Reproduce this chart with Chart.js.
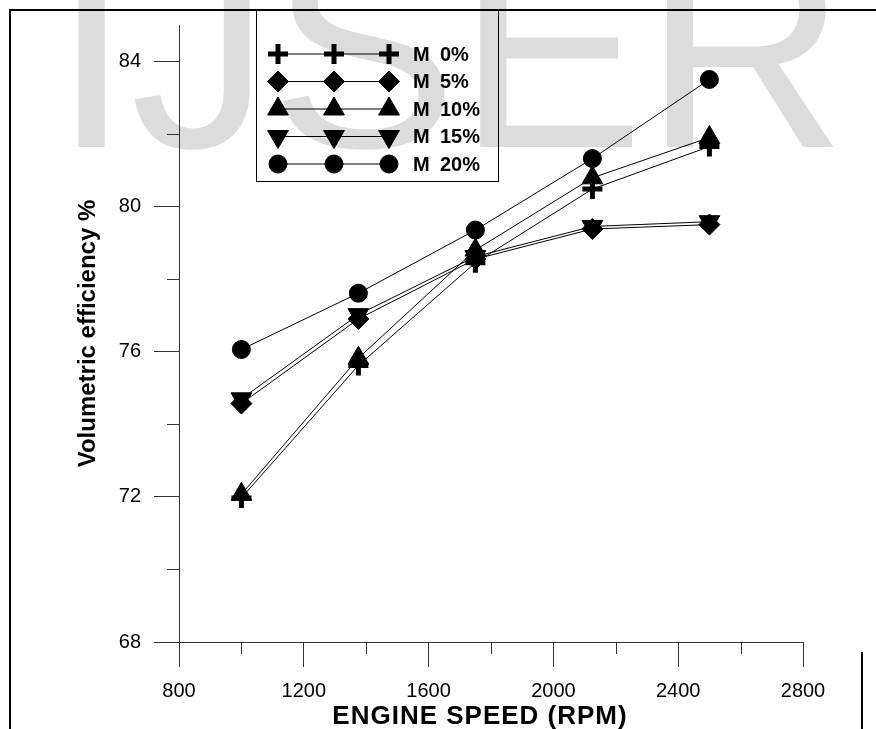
<!DOCTYPE html>
<html>
<head>
<meta charset="utf-8">
<script src="https://cdn.jsdelivr.net/npm/chart.js@4.4.1/dist/chart.umd.min.js"></script>
<style>
  html, body { margin: 0; padding: 0; background: #fff; }
  #wrap { width: 876px; height: 729px; }
</style>
</head>
<body>
<div id="wrap"><canvas id="chart" width="876" height="729"></canvas></div>
<script>
const rpm = [1000, 1375, 1750, 2125, 2500];
const seriesLabels = ["M 0%", "M 5%", "M 10%", "M 15%", "M 20%"];
const m0 = [71.97, 75.62, 78.45, 80.48, 81.65];
const m5 = [74.57, 76.9, 78.55, 79.38, 79.5];
const m10 = [72.07, 75.82, 78.8, 80.79, 81.9];
const m15 = [74.7, 77.02, 78.62, 79.45, 79.58];
const m20 = [76.06, 77.61, 79.35, 81.32, 83.5];

const xMajorTicks = [800, 1200, 1600, 2000, 2400, 2800];
const xMinorTicks = [1000, 1400, 1800, 2200, 2600];
const yMajorTicks = [68, 72, 76, 80, 84];
const yMinorTicks = [70, 74, 78, 82];

const xTitle = "ENGINE SPEED (RPM)";
const yTitle = "Volumetric efficiency %";

const FONT = "'Liberation Sans', Arial, sans-serif";
const AXIS = "#333";

const markers = [
  { style: "cross", radius: 10, rotation: 0, border: 5 },
  { style: "rectRot", radius: 10.5, rotation: 0, border: 1 },
  { style: "triangle", radius: 12, rotation: 0, border: 1 },
  { style: "triangle", radius: 12, rotation: 180, border: 1 },
  { style: "circle", radius: 9, rotation: 0, border: 1 },
];

const seriesValues = [m0, m5, m10, m15, m20];

const datasets = seriesValues.map((vals, i) => ({
  label: seriesLabels[i],
  data: rpm.map((x, j) => ({ x, y: vals[j] })),
  borderColor: "#000",
  borderWidth: 1,
  backgroundColor: "#000",
  pointStyle: markers[i].style,
  pointRadius: markers[i].radius,
  pointRotation: markers[i].rotation,
  pointBorderWidth: markers[i].border,
  pointBackgroundColor: "#000",
  pointBorderColor: "#000",
  tension: 0,
}));

const backdrop = {
  id: "backdrop",
  beforeDraw(chart) {
    const ctx = chart.ctx;
    ctx.save();
    ctx.fillStyle = "#fff";
    ctx.fillRect(0, 0, chart.width, chart.height);
    // watermark
    ctx.fillStyle = "#dcdcdc";
    ctx.font = `280px ${FONT}`;
    ctx.textBaseline = "alphabetic";
    ctx.textAlign = "left";
    ctx.fillText("IJSER", 52.7, 147);
    // page frame
    ctx.strokeStyle = "#000";
    ctx.lineWidth = 2;
    ctx.beginPath();
    ctx.moveTo(876, 10);
    ctx.lineTo(10, 10);
    ctx.lineTo(10, 729);
    ctx.moveTo(862, 652);
    ctx.lineTo(862, 729);
    ctx.stroke();
    ctx.restore();
  },
};

const extras = {
  id: "extras",
  afterDraw(chart) {
    const ctx = chart.ctx;
    const xs = chart.scales.x;
    const ys = chart.scales.y;
    ctx.save();
    // minor ticks
    ctx.strokeStyle = AXIS;
    ctx.lineWidth = 1;
    ctx.beginPath();
    xMinorTicks.forEach((v) => {
      const px = Math.round(xs.getPixelForValue(v)) + 0.5;
      ctx.moveTo(px, ys.bottom);
      ctx.lineTo(px, ys.bottom + 12);
    });
    yMinorTicks.forEach((v) => {
      const py = Math.round(ys.getPixelForValue(v)) + 0.5;
      ctx.moveTo(xs.left, py);
      ctx.lineTo(xs.left - 12, py);
    });
    ctx.stroke();

    // x title, a little left of centre and slightly spaced like the original
    ctx.fillStyle = "#000";
    ctx.font = `bold 26px ${FONT}`;
    ctx.textAlign = "center";
    ctx.textBaseline = "middle";
    ctx.letterSpacing = "1px";
    ctx.fillText(xTitle, (xs.left + xs.right) / 2 - 11, 717);
    ctx.letterSpacing = "0px";

    // legend box
    ctx.textAlign = "left";
    ctx.strokeStyle = "#000";
    ctx.lineWidth = 1;
    ctx.strokeRect(256.5, 10.5, 242, 171);
    const rowY0 = 54;
    const rowGap = 27.5;
    const mx = [278, 334, 389];
    ctx.font = `bold 20px ${FONT}`;
    datasets.forEach((ds, i) => {
      const y = rowY0 + i * rowGap;
      ctx.strokeStyle = "#000";
      ctx.lineWidth = 1;
      ctx.beginPath();
      ctx.moveTo(mx[0], y);
      ctx.lineTo(mx[2], y);
      ctx.stroke();
      ctx.fillStyle = "#000";
      ctx.lineWidth = markers[i].border;
      mx.forEach((x) => {
        Chart.helpers.drawPoint(ctx, {
          pointStyle: markers[i].style,
          radius: markers[i].radius,
          rotation: markers[i].rotation,
          borderWidth: markers[i].border,
        }, x, y);
      });
      const parts = ds.label.split(" ");
      ctx.fillText(parts[0], 413, y + 1);
      ctx.fillText(parts[1], 440, y + 1);
    });
    ctx.restore();
  },
};

new Chart(document.getElementById("chart"), {
  type: "line",
  data: { datasets },
  plugins: [backdrop, extras],
  options: {
    responsive: false,
    animation: false,
    layout: { padding: { left: 0, top: 20.5, right: 73, bottom: 0 } },
    plugins: {
      legend: { display: false },
      tooltip: { enabled: false },
    },
    scales: {
      x: {
        type: "linear",
        min: 800,
        max: 2800,
        afterFit: (s) => { s.height = 87; },
        border: { color: AXIS, width: 1 },
        grid: { drawOnChartArea: false, tickLength: 25, tickColor: AXIS },
        ticks: {
          stepSize: 400,
          autoSkip: false,
          maxRotation: 0,
          padding: 12,
          color: "#000",
          font: { family: FONT, size: 20 },
          callback: (v) => (xMajorTicks.includes(v) ? String(v) : ""),
        },
        title: { display: false },
      },
      y: {
        type: "linear",
        min: 68,
        max: 85,
        afterFit: (s) => { s.width = 179; },
        border: { color: AXIS, width: 1 },
        grid: { drawOnChartArea: false, tickLength: 25, tickColor: AXIS },
        ticks: {
          stepSize: 4,
          includeBounds: false,
          padding: 13,
          color: "#000",
          font: { family: FONT, size: 20 },
          callback: (v) => (yMajorTicks.includes(v) ? String(v) : ""),
        },
        title: {
          display: true,
          text: yTitle,
          color: "#000",
          font: { family: FONT, size: 24, weight: "bold", lineHeight: 1.2 },
          padding: { top: 73.6, bottom: 0 },
        },
      },
    },
  },
});
</script>
</body>
</html>
